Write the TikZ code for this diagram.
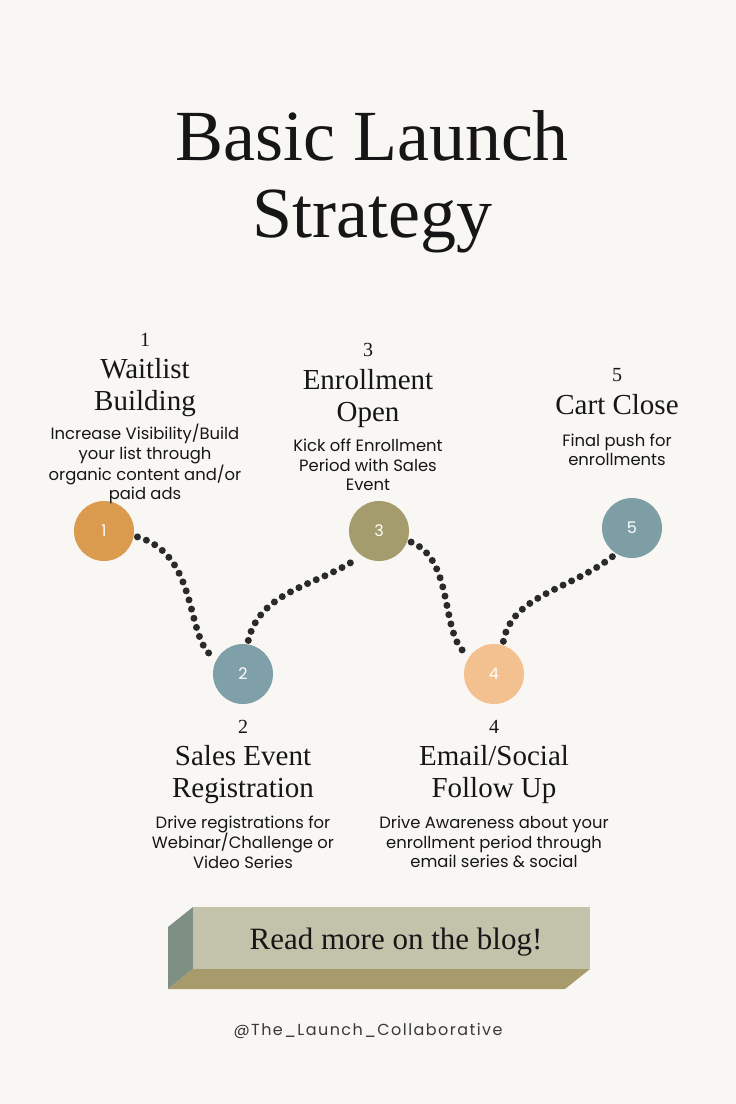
\documentclass[tikz,border=0pt]{standalone}
\usepackage{fontspec}
\setmainfont{Liberation Serif}
\newfontfamily\bodyfont{Poppins}
\newfontfamily\handlefont[LetterSpace=9]{Poppins}

\definecolor{paper}{HTML}{F9F7F3}
\definecolor{ink}{HTML}{161616}
\definecolor{dotc}{HTML}{2A2A2A}
\definecolor{stepA}{HTML}{DB9B4F}
\definecolor{stepB}{HTML}{80A0A9}
\definecolor{stepC}{HTML}{A59C6E}
\definecolor{stepD}{HTML}{F3C08F}
\definecolor{stepE}{HTML}{7E9EA6}
\definecolor{btnfront}{HTML}{C3C2AB}
\definecolor{btnside}{HTML}{7E8F84}
\definecolor{btnbottom}{HTML}{A89B6B}

\begin{document}
\begin{tikzpicture}[
  x=1pt,y=-1pt,
  stepcircle/.style={circle, minimum size=60pt, inner sep=0pt, outer sep=4pt, text=white, font=\bodyfont\fontsize{16}{16}\selectfont},
  stepnum/.style={text=ink, font=\fontsize{20}{20}\selectfont},
  stephead/.style={align=center, text=ink, font=\fontsize{29}{32}\selectfont},
  stepdesc/.style={align=center, text=ink, font=\bodyfont\fontsize{16.4}{19.3}\selectfont},
  dotpath/.style={draw=dotc, line width=7pt, line cap=round, dash pattern=on 0pt off 9.5pt}
]
\useasboundingbox[fill=paper] (0,0) rectangle (736,1104);

% title
\node[align=center, text=ink, font=\fontsize{72}{77}\selectfont] (title) at (372,182) {Basic Launch\\Strategy};

% steps
\node[stepcircle, fill=stepA] (c1) at (104,531) {1};
\node[stepcircle, fill=stepB] (c2) at (243,674) {2};
\node[stepcircle, fill=stepC] (c3) at (379,531) {3};
\node[stepcircle, fill=stepD] (c4) at (494,674) {4};
\node[stepcircle, fill=stepE] (c5) at (632,528) {5};

\draw[dotpath] (c1.-10) .. controls (200,555) and (185,640) .. (c2.150);
\draw[dotpath] (c2.81) .. controls (260,590) and (320,585) .. (c3.232);
\draw[dotpath] (c3.-19) .. controls (455,560) and (440,635) .. (c4.144);
\draw[dotpath] (c4.74) .. controls (512,595) and (570,590) .. (c5.236);

% labels above
\node[stepnum] (n1) at (145,340) {1};
\node[stephead] (h1) at (145,388) {Waitlist\\Building};
\node[stepdesc] (d1) at (145,464) {Increase Visibility/Build\\your list through\\organic content and/or\\paid ads};

\node[stepnum] (n3) at (368,350) {3};
\node[stephead] (h3) at (368,399) {Enrollment\\Open};
\node[stepdesc] (d3) at (368,465) {Kick off Enrollment\\Period with Sales\\Event};

\node[stepnum] (n5) at (617,375) {5};
\node[stephead] (h5) at (617,405) {Cart Close};
\node[stepdesc] (d5) at (617,450) {Final push for\\enrollments};

% labels below
\node[stepnum] (n2) at (243,727) {2};
\node[stephead] (h2) at (243,775) {Sales Event\\Registration};
\node[stepdesc] (d2) at (243,842) {Drive registrations for\\Webinar/Challenge or\\Video Series};

\node[stepnum] (n4) at (494,727) {4};
\node[stephead] (h4) at (494,775) {Email/Social\\Follow Up};
\node[stepdesc] (d4) at (494,842) {Drive Awareness about your\\enrollment period through\\email series \& social};

% blog button
\fill[btnside] (193,907) -- (168,927) -- (168,989) -- (193,969) -- cycle;
\fill[btnbottom] (193,969) -- (590,969) -- (565,989) -- (168,989) -- cycle;
\fill[btnfront] (193,907) rectangle (590,969);
\node[text=ink, font=\fontsize{31}{31}\selectfont] (blog) at (396,942) {Read more on the blog!};

\node[text=ink!85, font=\handlefont\fontsize{16}{16}\selectfont] (handle) at (368,1031) {@The\_Launch\_Collaborative};
\end{tikzpicture}
\end{document}
